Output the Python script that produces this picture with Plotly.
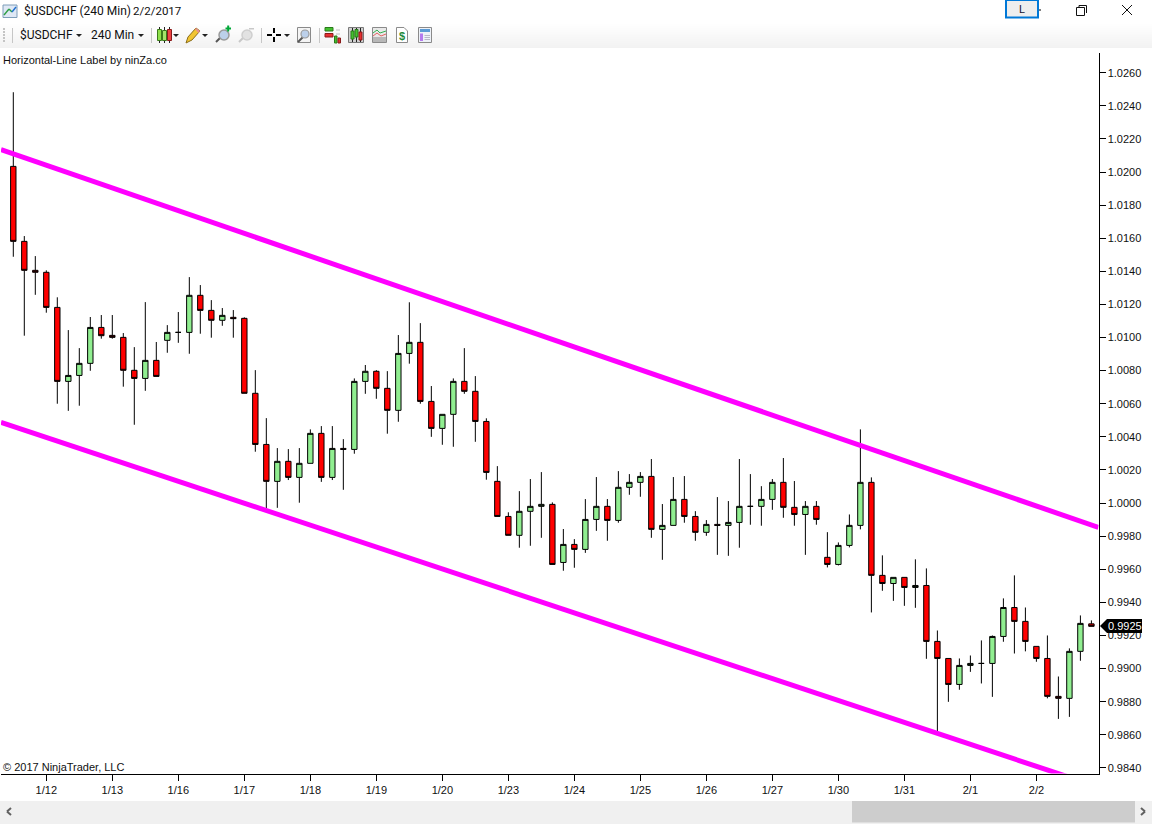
import plotly.graph_objects as go

# ---------- data (prices) ----------
dates_tick_labels = ["1/12", "1/13", "1/16", "1/17", "1/18", "1/19", "1/20", "1/23",
                     "1/24", "1/25", "1/26", "1/27", "1/30", "1/31", "2/1", "2/2"]
tick_bar_index = [3, 9, 15, 21, 27, 33, 39, 45, 51, 57, 63, 69, 75, 81, 87, 93]

opens = [1.02034, 1.01581, 1.01406, 1.01394, 1.01182, 1.00735, 1.00771, 1.00844, 1.01061, 1.01013,
         1.01001, 1.00802, 1.00753, 1.00862, 1.00983, 1.01031, 1.01031, 1.01255, 1.01164, 1.01104,
         1.01122, 1.01116, 1.00663, 1.00354, 1.00131, 1.00252, 1.00155, 1.00240, 1.00421, 1.00155,
         1.00330, 1.00324, 1.00735, 1.00796, 1.00693, 1.00560, 1.00904, 1.00971, 1.00614, 1.00451,
         1.00536, 1.00735, 1.00675, 1.00493, 1.00131, 0.99919, 0.99805, 0.99950, 0.99980, 0.99992,
         0.99641, 0.99750, 0.99720, 0.99901, 0.99980, 0.99895, 1.00095, 1.00125, 1.00161, 0.99841,
         0.99865, 1.00022, 0.99919, 0.99823, 0.99871, 0.99865, 0.99883, 0.99980, 0.99980, 1.00022,
         1.00125, 0.99974, 0.99931, 0.99980, 0.99672, 0.99629, 0.99744, 0.99865, 1.00125, 0.99563,
         0.99514, 0.99551, 0.99490, 0.99502, 0.99164, 0.99061, 0.98904, 0.99019, 0.99031, 0.99031,
         0.99194, 0.99369, 0.99285, 0.99134, 0.99061, 0.98832, 0.98820, 0.99104, 0.99270]
highs = [1.02482, 1.01613, 1.01492, 1.01406, 1.01243, 1.01045, 1.00936, 1.01124, 1.01136, 1.01136,
         1.01027, 1.00942, 1.01214, 1.00973, 1.01075, 1.01154, 1.01365, 1.01317, 1.01226, 1.01178,
         1.01166, 1.01122, 1.00803, 1.00513, 1.00332, 1.00326, 1.00332, 1.00445, 1.00465, 1.00465,
         1.00386, 1.00753, 1.00834, 1.00803, 1.00797, 1.01015, 1.01213, 1.01087, 1.00707, 1.00536,
         1.00753, 1.00936, 1.00767, 1.00512, 1.00223, 0.99944, 1.00072, 1.00145, 1.00187, 1.00004,
         0.99843, 0.99782, 1.00024, 1.00157, 1.00024, 1.00193, 1.00175, 1.00187, 1.00266, 0.99994,
         1.00157, 1.00163, 0.99951, 0.99897, 1.00036, 1.00012, 1.00266, 1.00175, 1.00102, 1.00145,
         1.00272, 1.00133, 1.00012, 1.00012, 0.99824, 0.99762, 0.99931, 1.00445, 1.00155, 0.99684,
         0.99551, 0.99551, 0.99660, 0.99605, 0.99230, 0.99061, 0.99061, 0.99079, 0.99170, 0.99200,
         0.99424, 0.99563, 0.99369, 0.99134, 0.99200, 0.98952, 0.99122, 0.99321, 0.99291]
lows = [1.01488, 1.01011, 1.01258, 1.01150, 1.00600, 1.00557, 1.00588, 1.00799, 1.00993, 1.00993,
        1.00703, 1.00473, 1.00678, 1.00765, 1.00908, 1.00968, 1.00902, 1.01023, 1.00999, 1.01071,
        1.00999, 1.00663, 1.00310, 0.99968, 0.99971, 1.00139, 1.00002, 1.00240, 1.00128, 1.00139,
        1.00080, 1.00298, 1.00660, 1.00630, 1.00419, 1.00491, 1.00842, 1.00600, 1.00400, 1.00352,
        1.00340, 1.00660, 1.00370, 1.00141, 0.99919, 0.99805, 0.99730, 0.99742, 0.99790, 0.99629,
        0.99591, 0.99609, 0.99699, 0.99832, 0.99772, 0.99881, 1.00050, 1.00038, 0.99790, 0.99657,
        0.99865, 0.99881, 0.99772, 0.99802, 0.99687, 0.99681, 0.99730, 0.99869, 0.99863, 0.99959,
        0.99911, 0.99863, 0.99687, 0.99869, 0.99611, 0.99623, 0.99732, 0.99841, 0.99339, 0.99470,
        0.99409, 0.99379, 0.99367, 0.99059, 0.98618, 0.98799, 0.98872, 0.98980, 0.98910, 0.98829,
        0.99162, 0.99091, 0.99104, 0.99041, 0.98820, 0.98696, 0.98708, 0.99047, 0.99255]
closes = [1.01581, 1.01406, 1.01394, 1.01182, 1.00735, 1.00771, 1.00844, 1.01061, 1.01011, 1.01001,
          1.00802, 1.00753, 1.00862, 1.00765, 1.01031, 1.01031, 1.01255, 1.01164, 1.01104, 1.01134,
          1.01114, 1.00663, 1.00354, 1.00131, 1.00252, 1.00155, 1.00240, 1.00421, 1.00155, 1.00330,
          1.00324, 1.00735, 1.00796, 1.00693, 1.00560, 1.00904, 1.00971, 1.00614, 1.00451, 1.00536,
          1.00735, 1.00675, 1.00493, 1.00185, 0.99919, 0.99805, 0.99950, 0.99980, 0.99992, 0.99629,
          0.99750, 0.99720, 0.99901, 0.99980, 0.99895, 1.00095, 1.00125, 1.00161, 0.99841, 0.99865,
          1.00022, 0.99919, 0.99823, 0.99871, 0.99865, 0.99883, 0.99980, 0.99980, 1.00022, 1.00125,
          0.99974, 0.99931, 0.99980, 0.99901, 0.99629, 0.99744, 0.99865, 1.00125, 0.99563, 0.99514,
          0.99551, 0.99490, 0.99502, 0.99164, 0.99061, 0.98904, 0.99019, 0.99031, 0.99031, 0.99194,
          0.99369, 0.99285, 0.99164, 0.99061, 0.98832, 0.98820, 0.99104, 0.99273, 0.99255]

channel_x = [-1.12, 98.64]
channel_upper = [1.02135, 0.99853]
channel_lower = [1.00487, 0.98285]

price_ticks = [0.984, 0.986, 0.988, 0.990, 0.992, 0.994, 0.996, 0.998, 1.000, 1.002, 1.004,
               1.006, 1.008, 1.010, 1.012, 1.014, 1.016, 1.018, 1.020, 1.022, 1.024, 1.026]
last_price_label = "0.9925"

# ---------- geometry ----------
W, H = 1152, 824
FONT = "Liberation Sans"
UI_FONT = "Roboto"
shapes, notes = [], []


def px(x):
    return x / W


def py(y):
    return 1 - y / H


def rect(x0, y0, x1, y1, fill=None, line=None, lw=1):
    shapes.append(dict(type="rect", xref="paper", yref="paper", x0=px(x0), x1=px(x1), y0=py(y0), y1=py(y1),
                       fillcolor=fill or "rgba(0,0,0,0)", line=dict(color=line or "rgba(0,0,0,0)", width=lw if line else 0)))


def seg(x0, y0, x1, y1, color="#000000", lw=1):
    shapes.append(dict(type="line", xref="paper", yref="paper", x0=px(x0), x1=px(x1), y0=py(y0), y1=py(y1),
                       line=dict(color=color, width=lw)))


def ell(x0, y0, x1, y1, fill=None, line=None, lw=1):
    shapes.append(dict(type="circle", xref="paper", yref="paper", x0=px(x0), x1=px(x1), y0=py(y0), y1=py(y1),
                       fillcolor=fill or "rgba(0,0,0,0)", line=dict(color=line or "rgba(0,0,0,0)", width=lw if line else 0)))


def poly(points, fill, line=None):
    d = "M " + " L ".join(f"{px(a):.5f},{py(b):.5f}" for a, b in points) + " Z"
    shapes.append(dict(type="path", xref="paper", yref="paper", path=d, fillcolor=fill,
                       line=dict(color=line or fill, width=0 if line is None else 1)))


def text(x, y, s, size=11, color="#000000", family=FONT, anchor="left"):
    notes.append(dict(x=px(x), y=py(y), xref="paper", yref="paper", text=s, showarrow=False,
                      xanchor=anchor, yanchor="middle", borderpad=0, borderwidth=0,
                      font=dict(family=family, size=size, color=color)))


def tri(cx, cy=35.5, color="#222222"):
    poly([(cx - 3, cy - 1.5), (cx + 3, cy - 1.5), (cx, cy + 1.5)], color)


# toolbar gradient
for row in range(23, 48):
    shade = round(255 - (row - 23) * 13 / 24)
    rect(0, row, W, row + 1, fill=f"rgb({shade},{shade},{shade})")

# window chrome
text(24, 11, "$USDCHF (240 Min)", 12, "#101010", UI_FONT)
text(133, 11, "2/2/2017", 11.5, "#101010", UI_FONT)
rect(3, 5, 17, 17.5, fill="#dfe8f5", line="#7f9db9")
seg(4, 15, 9, 9, "#2f9e44", 1.4)
seg(9, 9, 12, 12, "#2f9e44", 1.4)
seg(12, 12, 16, 7, "#1f6fd0", 1.4)
rect(1006, 0, 1038, 17.5, fill="#eeeeee", line="#0078d7", lw=2)
text(1022, 9.5, "L", 11, "#101030", UI_FONT, "center")
seg(1039, 10, 1041, 10, "#000000", 1)
rect(1076.5, 7.5, 1084.5, 15.5, fill="#ffffff", line="#111111")
seg(1079, 7, 1079, 5.5, "#111111")
seg(1079, 5.5, 1086.5, 5.5, "#111111")
seg(1086.5, 5.5, 1086.5, 13, "#111111")
seg(1122, 5, 1132, 15, "#111111")
seg(1132, 5, 1122, 15, "#111111")

# toolbar
for gy in (28, 31, 34, 37, 40):
    rect(3, gy, 5, gy + 2, fill="#c4c4c4")
seg(12.5, 28, 12.5, 43, "#c6c6c6")
text(20, 35, "$USDCHF", 12, "#101010", UI_FONT)
tri(79)
text(91, 35, "240 Min", 12, "#101010", UI_FONT)
tri(141)
seg(151.5, 28, 151.5, 43, "#c6c6c6")
# candles icon
seg(159.5, 27, 159.5, 43, "#222222")
rect(157.5, 29.5, 161.5, 40.5, fill="#8ee04a", line="#3a7a1a")
seg(164.5, 27, 164.5, 43, "#222222")
rect(162.5, 30.5, 166.5, 40.5, fill="#a6e36a", line="#3a7a1a")
seg(169.5, 27, 169.5, 43, "#222222")
rect(167.5, 29.5, 171.5, 40.5, fill="#ee4444", line="#8a1a1a")
tri(176)
# pencil
poly([(186, 43), (188, 37), (196, 28), (200, 31), (192, 40)], "#f2c531", "#8a6d1a")
poly([(195, 29), (196, 28), (200, 31), (198.5, 33)], "#e88f8f")
tri(205)
# zoom in
seg(216, 42, 221, 37, "#555555", 2)
ell(219, 30, 229, 40, fill="#bcd0ea", line="#9a9a9a", lw=1.5)
rect(225.5, 27.5, 231, 29.5, fill="#00a838")
rect(227.2, 25.5, 229.2, 31.5, fill="#00a838")
# zoom out
seg(239, 42, 244, 37, "#c8c8c8", 2)
ell(242, 30, 252, 40, fill="#e2e2e2", line="#cfcfcf", lw=1.5)
rect(249, 28, 254, 29.5, fill="#c8c8c8")
seg(261.5, 28, 261.5, 43, "#c6c6c6")
# crosshair
rect(267, 34, 272, 36, fill="#000000")
rect(276, 34, 281, 36, fill="#000000")
rect(273, 28, 275, 33, fill="#000000")
rect(273, 37, 275, 42, fill="#000000")
tri(287)
# magnifier box
rect(297.5, 27.5, 310.5, 42.5, fill="#f4f4f4", line="#8a8a8a")
seg(298, 42, 303, 37, "#555555", 2)
ell(301, 30, 309, 38, fill="#bcd0ea", line="#9a9a9a", lw=1.2)
seg(319.5, 28, 319.5, 43, "#c6c6c6")
# strategy icon
rect(325, 27.5, 333, 31, fill="#44c030", line="#2a7a1a")
rect(325, 33.5, 333, 37, fill="#e83030", line="#8a1a1a")
seg(336, 30, 340, 30, "#c0c0c0")
seg(336, 34, 340, 34, "#c0c0c0")
rect(334.5, 36, 337, 43, fill="#44c030", line="#2a7a1a")
rect(338, 38, 340.5, 43, fill="#e83030", line="#8a1a1a")
# candles box
rect(348.5, 27.5, 363.5, 42.5, fill="#cfcfcf", line="#7a7a7a")
seg(352.5, 28, 352.5, 42, "#222222")
rect(351, 31, 354, 39, fill="#44c030", line="#2a7a1a")
seg(356.5, 28, 356.5, 42, "#222222")
rect(355, 29.5, 358, 37, fill="#44c030", line="#2a7a1a")
seg(360.5, 28, 360.5, 42, "#222222")
rect(359, 32, 362, 40, fill="#e83030", line="#8a1a1a")
# indicator graph box
rect(372.5, 27.5, 386.5, 42.5, fill="#e9e9e9", line="#8a8a8a")
rect(373, 37, 386, 42, fill="#b8b8b8")
seg(373, 33, 377, 30, "#30b050")
seg(377, 30, 380, 33, "#30b050")
seg(380, 33, 386, 31, "#30b050")
seg(373, 36, 377, 33, "#e06060")
seg(377, 33, 381, 36, "#e06060")
seg(381, 36, 386, 34, "#e06060")
# $ document
poly([(396.5, 27.5), (404, 27.5), (407.5, 31), (407.5, 42.5), (396.5, 42.5)], "#ffffff", "#8a8a8a")
text(402, 35.5, "<b>$</b>", 11, "#1f8a3a", FONT, "center")
# panel
rect(418.5, 27.5, 431.5, 42.5, fill="#eef2f8", line="#8a8a8a")
rect(420, 29, 430, 32, fill="#5b9bd5")
rect(420, 33.5, 423, 41, fill="#b57bee")
for ly in (35, 37, 39):
    seg(424.5, ly + 0.5, 430, ly + 0.5, "#b8b8c8")

# text on the chart
text(3, 60, "Horizontal-Line Label by ninZa.co", 11, "#101010")
text(3, 767, "© 2017 NinjaTrader, LLC", 11, "#101010")

# last-price marker
poly([(1100, 626), (1107, 619), (1142, 619), (1142, 633), (1107, 633)], "#000000")
text(1108, 626, last_price_label, 11, "#ffffff")

# scrollbar
rect(0, 801, W, H, fill="#f0f0f0")
rect(852, 801, 1135, 822.5, fill="#cdcdcd")
seg(11, 808, 7, 811.5, "#606060", 2)
seg(7, 811.5, 11, 815, "#606060", 2)
seg(1141, 808, 1145, 811.5, "#606060", 2)
seg(1145, 811.5, 1141, 815, "#606060", 2)

# ---------- figure ----------
bars = list(range(len(opens)))
fig = go.Figure()
fig.add_trace(go.Candlestick(
    x=bars, open=opens, high=highs, low=lows, close=closes,
    increasing=dict(fillcolor="#90EE90", line=dict(color="#000000", width=1)),
    decreasing=dict(fillcolor="#FF0000", line=dict(color="#000000", width=1)),
    whiskerwidth=0, hoverinfo="skip", showlegend=False))
for values in (channel_upper, channel_lower):
    fig.add_trace(go.Scatter(x=channel_x, y=values, mode="lines", hoverinfo="skip", showlegend=False,
                             line=dict(color="#FF00FF", width=5)))

fig.update_layout(
    width=W, height=H, margin=dict(l=0, r=0, t=0, b=0, pad=0, autoexpand=False),
    paper_bgcolor="#ffffff", plot_bgcolor="#ffffff", showlegend=False,
    shapes=shapes, annotations=notes, boxgap=0.3, boxgroupgap=0.3,
    font=dict(family=FONT, size=11, color="#101010"),
    xaxis=dict(domain=[1 / W, 1098.5 / W], range=[-1.118, 98.645], tickmode="array",
               tickvals=tick_bar_index, ticktext=dates_tick_labels, ticks="outside", ticklen=6,
               tickwidth=1, tickcolor="#000000", showline=True, linecolor="#000000", linewidth=1,
               showgrid=False, zeroline=False, rangeslider=dict(visible=False), fixedrange=True,
               tickfont=dict(family=FONT, size=11, color="#101010")),
    yaxis=dict(domain=[1 - 773.5 / H, 1 - 53 / H], range=[0.98366, 1.02719], side="right", tickmode="array",
               tickvals=price_ticks, tickformat=".4f", ticks="outside", ticklen=6, tickwidth=1,
               tickcolor="#000000", showline=True, linecolor="#000000", linewidth=1,
               showgrid=False, zeroline=False, fixedrange=True,
               tickfont=dict(family=FONT, size=11, color="#101010")),
)

fig.write_html("out.html", config=dict(displayModeBar=False),
               post_script="document.body.style.margin='0';document.body.style.overflow='hidden';")
